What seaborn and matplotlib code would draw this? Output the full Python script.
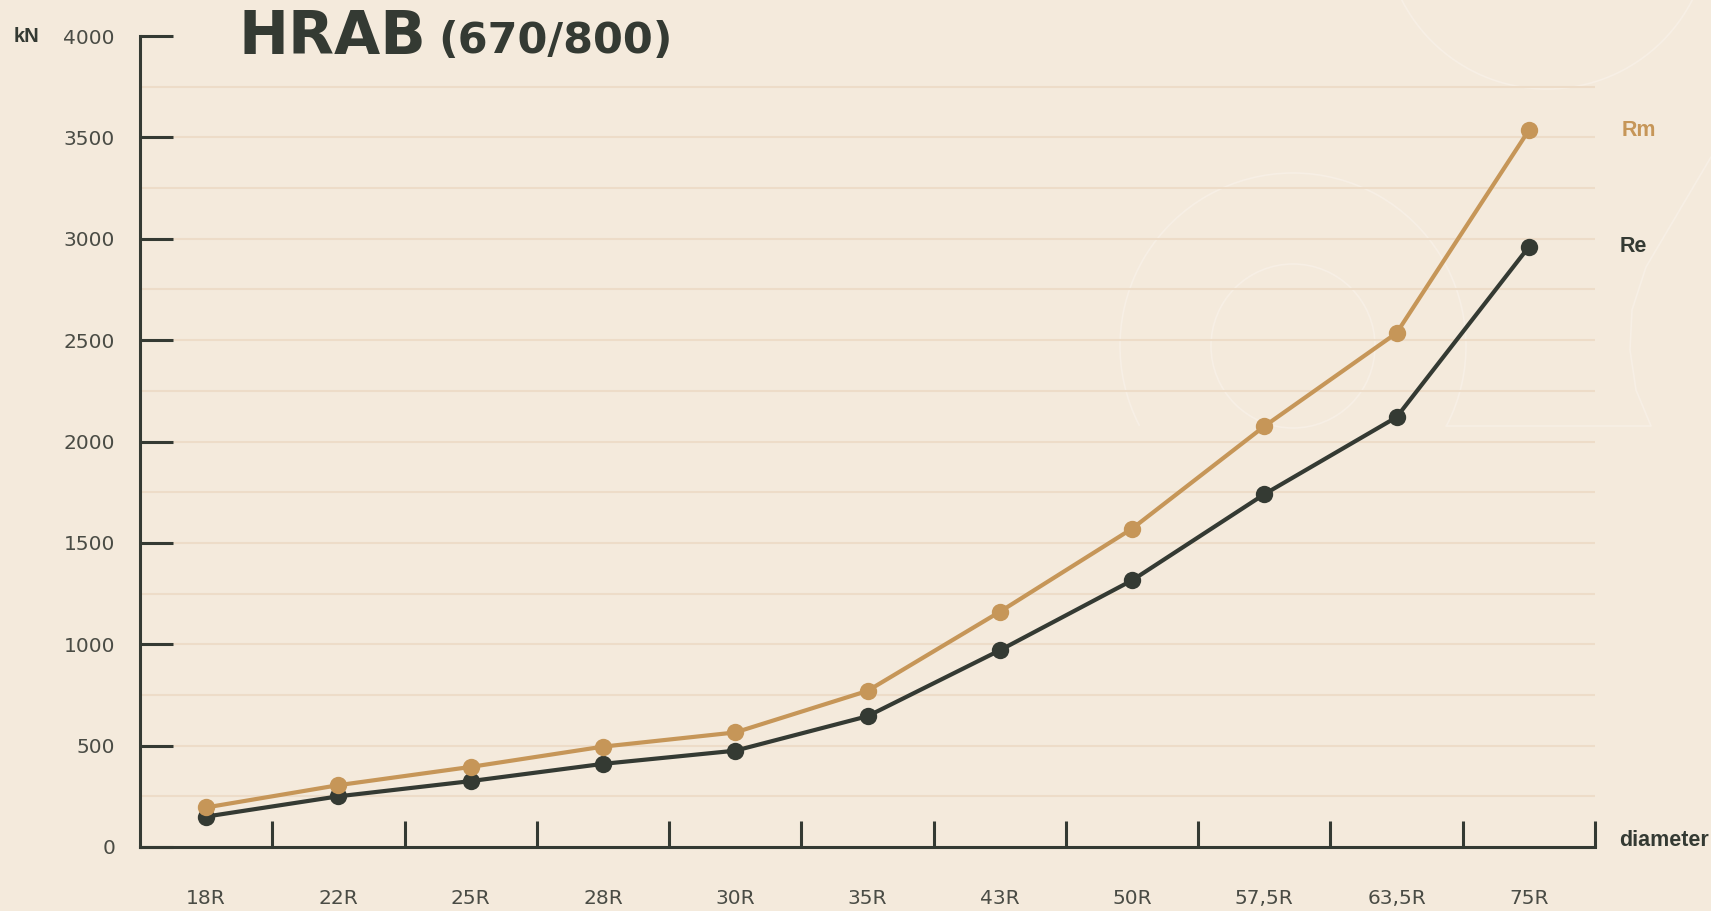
import numpy as np
import pandas as pd
import matplotlib
matplotlib.use("Agg")
import matplotlib.pyplot as plt
import seaborn as sns
from matplotlib.patches import Arc, Circle
from matplotlib.lines import Line2D

# ---- data ----
diameters = ["18R", "22R", "25R", "28R", "30R", "35R", "43R", "50R", "57,5R", "63,5R", "75R"]
rm_values = [195, 305, 395, 495, 565, 770, 1160, 1570, 2075, 2535, 3535]
re_values = [150, 250, 325, 410, 475, 645, 970, 1315, 1740, 2120, 2960]
series_names = ["Re", "Rm"]
y_ticks = [0, 500, 1000, 1500, 2000, 2500, 3000, 3500, 4000]
title_main = "HRAB"
title_sub = "(670/800)"

BG = "#f4eadc"
GRID = "#eddcc8"
DARK = "#343a33"
TAN = "#c69658"
TXT = "#4a4c45"
DECO = "#f7efe5"

sns.set_style("white")
plt.rcParams["font.family"] = ["Liberation Sans", "DejaVu Sans"]

df = pd.DataFrame({
    "pos": list(range(len(diameters))) * 2,
    "diameter": diameters * 2,
    "kN": re_values + rm_values,
    "series": ["Re"] * len(diameters) + ["Rm"] * len(diameters),
})

W, H = 1711, 911
fig = plt.figure(figsize=(W / 100, H / 100), dpi=100, facecolor=BG)

# decorative faint shapes (figure pixel coords -> inches)
def px(x, y):
    return (x / 100, (H - y) / 100)

deco_kw = dict(transform=fig.dpi_scale_trans, fill=False, edgecolor=DECO, linewidth=1.2, zorder=-5)
fig.patches.append(Circle(px(1547, -74), 1.63, **deco_kw))
fig.patches.append(Arc(px(1293, 346), 3.46, 3.46, theta1=-27.5, theta2=207.5, **deco_kw))
fig.patches.append(Circle(px(1293, 346), 0.82, **deco_kw))
xs = [1711, 1646, 1632, 1630, 1636, 1651, 1446]
ys = [157, 267, 310, 350, 390, 426, 426]
fig.lines.append(Line2D([x / 100 for x in xs], [(H - y) / 100 for y in ys],
                        transform=fig.dpi_scale_trans, color=DECO, linewidth=1.2, zorder=-5))

ax = fig.add_axes([140 / W, 1 - 847 / H, (1595 - 140) / W, (847 - 36) / H])
ax.set_facecolor("none")
ax.set_zorder(2)

sns.lineplot(data=df, x="pos", y="kN", hue="series", hue_order=series_names,
             palette={"Re": DARK, "Rm": TAN}, marker="o", markersize=12.5,
             markeredgewidth=0, linewidth=3, legend=False, sort=False, ax=ax, zorder=3)

ax.set_xlim(-0.5, len(diameters) - 0.5)
ax.set_ylim(0, 4000)

tick_font = dict(family="DejaVu Sans", size=14.5, weight="normal")

# x axis: labels at centres, inward ticks at boundaries
ax.set_xticks(range(len(diameters)))
ax.set_xticklabels(diameters, fontdict=tick_font)
ax.set_xticks(np.arange(len(diameters)) + 0.5, minor=True)
ax.tick_params(axis="x", which="major", bottom=True, length=0, pad=30, labelcolor=TXT)
ax.tick_params(axis="x", which="minor", bottom=True, direction="in", length=18.5, width=2.2,
               color=DARK)

# y axis
ax.set_yticks(y_ticks)
ax.set_yticklabels([str(v) for v in y_ticks], fontdict=tick_font)
ax.set_yticks(np.arange(250, 4000, 500), minor=True)
ax.tick_params(axis="y", which="major", left=True, direction="in", length=24, width=2.2,
               color=DARK, pad=18, labelcolor=TXT)
ax.tick_params(axis="y", which="minor", left=False, length=0)
ax.yaxis.grid(True, which="both", color=GRID, linewidth=1.5, zorder=0)
ax.xaxis.grid(False)
ax.set_axisbelow(True)
ax.get_ygridlines()[-1].set_visible(False)
ax.get_ygridlines()[0].set_visible(False)

for s in ["top", "right"]:
    ax.spines[s].set_visible(False)
for s in ["left", "bottom"]:
    ax.spines[s].set_color(DARK)
    ax.spines[s].set_linewidth(2.2)

ax.set_xlabel("")
ax.set_ylabel("")

# series labels at the last points
ax.annotate("Rm", xy=(len(diameters) - 1, rm_values[-1]), xytext=(93, 0),
            textcoords="offset pixels", va="center", ha="left",
            fontsize=15.5, fontweight="bold", color=TAN, annotation_clip=False)
ax.annotate("Re", xy=(len(diameters) - 1, re_values[-1]), xytext=(91, 0),
            textcoords="offset pixels", va="center", ha="left",
            fontsize=15.5, fontweight="bold", color=DARK, annotation_clip=False)

# axis titles
fig.text(14 / W, 1 - 36 / H, "kN", fontsize=14.5, fontweight="bold", color=DARK,
         ha="left", va="center")
fig.text(1619 / W, 1 - 841 / H, "diameter", fontsize=15.5, fontweight="bold", color=DARK,
         ha="left", va="center")

# title
fig.text(238 / W, 1 - 54 / H, title_main, fontsize=43, fontweight="bold", color=DARK,
         ha="left", va="baseline", family="DejaVu Sans")
fig.text(438 / W, 1 - 53 / H, title_sub, fontsize=31, fontweight="bold", color=DARK,
         ha="left", va="baseline", family="DejaVu Sans")

fig.savefig("out.png", dpi=100, facecolor=BG)
